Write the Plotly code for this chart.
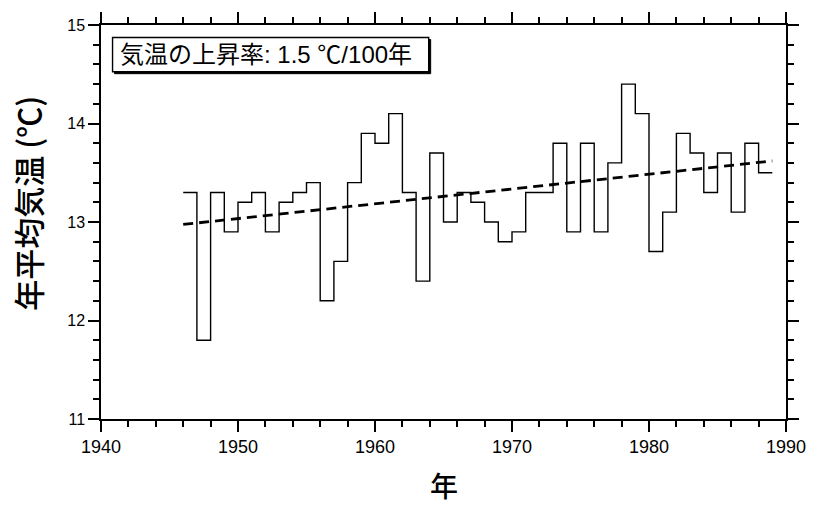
import plotly.graph_objects as go

years = list(range(1946, 1989))
temps = [13.3, 11.8, 13.3, 12.9, 13.2, 13.3, 12.9, 13.2, 13.3, 13.4,
         12.2, 12.6, 13.4, 13.9, 13.8, 14.1, 13.3, 12.4, 13.7, 13.0,
         13.3, 13.2, 13.0, 12.8, 12.9, 13.3, 13.3, 13.8, 12.9, 13.8,
         12.9, 13.6, 14.4, 14.1, 12.7, 13.1, 13.9, 13.7, 13.3, 13.7,
         13.1, 13.8, 13.5]
trend_x = [1946, 1989]
trend_y = [12.975, 13.62]
label_text = "気温の上昇率: 1.5 ℃/100年"
x_title = "年"
y_title = "年平均気温 (℃)"

step_x = years + [years[-1] + 1]
step_y = temps + [temps[-1]]

FONT = "Liberation Sans, Arial, Noto Sans CJK JP, sans-serif"
CJK = "Noto Sans CJK JP, sans-serif"

fig = go.Figure()
fig.add_trace(go.Scatter(x=step_x, y=step_y, mode="lines",
                         line=dict(shape="hv", color="black", width=1.4),
                         showlegend=False, hoverinfo="skip"))
fig.add_trace(go.Scatter(x=trend_x, y=trend_y, mode="lines",
                         line=dict(color="black", width=2.8, dash="10px,6px"),
                         showlegend=False, hoverinfo="skip"))

axis_common = dict(showgrid=False, zeroline=False, showline=True,
                   linecolor="black", linewidth=1.5, mirror="allticks",
                   ticks="outside", ticklen=11, tickwidth=1.5,
                   tickcolor="black")

fig.update_xaxes(range=[1940, 1990], dtick=10, tick0=1940,
                 tickfont=dict(family=FONT, size=18, color="black"),
                 minor=dict(dtick=2, ticks="outside", ticklen=6,
                            tickwidth=1.5, tickcolor="black", showgrid=False),
                 **axis_common)
fig.update_yaxes(range=[11, 15], dtick=1, tick0=11,
                 tickfont=dict(family=FONT, size=16, color="black"),
                 minor=dict(dtick=0.2, ticks="outside", ticklen=6,
                            tickwidth=1.5, tickcolor="black", showgrid=False),
                 **axis_common)

pw, ph = 694.0, 399.0
bx0, bx1, by0, by1 = 112.7, 433.0, 32.7, 67.3

def px_to_paper(x, y):
    return (x - 101) / pw, 1 - (y - 20) / ph

sx0, sy0 = px_to_paper(bx0 + 2, by0 + 2)
sx1, sy1 = px_to_paper(bx1 + 2, by1 + 2)
fig.add_shape(type="rect", xref="paper", yref="paper", x0=sx0, x1=sx1, y0=sy1, y1=sy0,
              fillcolor="black", line=dict(color="black", width=1), layer="above")
rx0, ry0 = px_to_paper(bx0, by0)
rx1, ry1 = px_to_paper(bx1, by1)
fig.add_shape(type="rect", xref="paper", yref="paper", x0=rx0, x1=rx1, y0=ry1, y1=ry0,
              fillcolor="white", line=dict(color="black", width=1.4), layer="above")
tx, ty = px_to_paper(118, 50)
fig.add_annotation(text=label_text, xref="paper", yref="paper", x=tx, y=ty,
                   xanchor="left", yanchor="middle", showarrow=False,
                   font=dict(family=FONT, size=24, color="black"))

# axis titles
xt_x, xt_y = px_to_paper(448, 486)
fig.add_annotation(text=x_title, xref="paper", yref="paper", x=xt_x, y=xt_y,
                   xanchor="center", yanchor="middle", showarrow=False,
                   borderpad=0,
                   font=dict(family=CJK, size=28, color="black", weight=500))
yt_x, yt_y = px_to_paper(27, 200)
fig.add_annotation(text=y_title, xref="paper", yref="paper", x=yt_x, y=yt_y,
                   xanchor="center", yanchor="middle", showarrow=False, textangle=-90,
                   font=dict(family=CJK, size=31, color="black", weight=500))

fig.update_layout(width=818, height=506, plot_bgcolor="white", paper_bgcolor="white",
                  margin=dict(l=101, r=23, t=20, b=87))

fig.write_html("out.html")
